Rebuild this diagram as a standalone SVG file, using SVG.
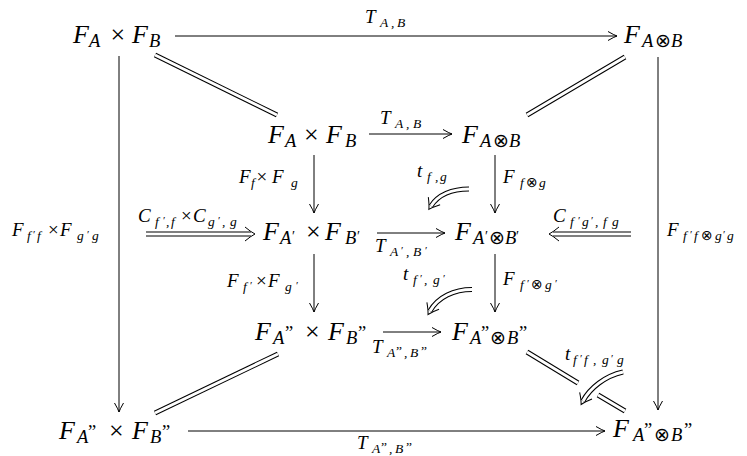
<svg xmlns="http://www.w3.org/2000/svg" width="747" height="456" viewBox="0 0 747 456">
<style>
text{font-family:'Liberation Serif','DejaVu Serif',serif;fill:#000}
.n{font-family:'Liberation Serif','DejaVu Serif',serif;font-style:italic;font-size:26px}
.ns{font-family:'Liberation Serif','DejaVu Serif',serif;font-style:italic;font-size:18.5px}
.nr{font-family:'Liberation Serif','DejaVu Serif',serif;font-style:normal;font-size:26px}
.no{font-style:normal;font-size:19px;font-family:'DejaVu Sans',sans-serif}
.nq{font-family:'Liberation Serif','DejaVu Serif',serif;font-style:normal;font-size:18.5px}
.np{font-family:'Liberation Serif','DejaVu Serif',serif;font-style:normal;font-size:14px}
.l{font-family:'Liberation Serif','DejaVu Serif',serif;font-style:italic;font-size:19px}
.lr{font-family:'Liberation Serif','DejaVu Serif',serif;font-style:normal;font-size:19px}
.ls{font-family:'Liberation Serif','DejaVu Serif',serif;font-style:italic;font-size:13.5px}
.lp{font-family:'Liberation Serif','DejaVu Serif',serif;font-style:normal;font-size:11px}
.lo{font-style:normal;font-size:14px;font-family:'DejaVu Sans',sans-serif}
.lq{font-family:'Liberation Serif','DejaVu Serif',serif;font-style:normal;font-size:13.5px}
.c{fill:none;stroke:#000;stroke-width:1}
.d{fill:none;stroke:#000;stroke-width:5}
.dw{fill:none;stroke:#fff;stroke-width:3}
</style>
<defs>
<marker id="ah" markerUnits="userSpaceOnUse" viewBox="-11 -6 13 12" markerWidth="13" markerHeight="12" refX="0" refY="0" orient="auto"><path d="M-9,-4.5 Q-3,-1 0,0 Q-3,1 -9,4.5" fill="none" stroke="#000" stroke-width="1"/></marker>
<marker id="dah" markerUnits="userSpaceOnUse" viewBox="-12 -8 14 16" markerWidth="14" markerHeight="16" refX="-4" refY="0" orient="auto"><path d="M-10,-7 Q-4,-2 0,0 Q-4,2 -10,7" fill="none" stroke="#000" stroke-width="1"/></marker>
</defs>

<g id="connectors">
<path class="c" marker-end="url(#ah)" d="M175,36 H617"/>
<path class="c" marker-end="url(#ah)" d="M369,134 H452"/>
<path class="c" marker-end="url(#ah)" d="M377,233 H445"/>
<path class="c" marker-end="url(#ah)" d="M383,332 H441"/>
<path class="c" marker-end="url(#ah)" d="M188,431 H605"/>
<path class="c" marker-end="url(#ah)" d="M119,56 V412"/>
<path class="c" marker-end="url(#ah)" d="M658,57 V410"/>
<path class="c" marker-end="url(#ah)" d="M314,155 V213"/>
<path class="c" marker-end="url(#ah)" d="M495,155 V213"/>
<path class="c" marker-end="url(#ah)" d="M314,254 V312"/>
<path class="c" marker-end="url(#ah)" d="M495,254 V312"/>
<path class="d" marker-end="url(#dah)" d="M146,234 H251"/><path class="dw" d="M146,234 H251"/>
<path class="d" marker-end="url(#dah)" d="M631,234 H553"/><path class="dw" d="M631,234 H553"/>
<path class="d" d="M155,55 L277,115"/><path class="dw" d="M155,55 L277,115"/>
<path class="d" d="M625,57 L527,115"/><path class="dw" d="M625,57 L527,115"/>
<path class="d" d="M155,413 L278,354"/><path class="dw" d="M155,413 L278,354"/>
<path class="d" d="M527,352 L578,383"/><path class="dw" d="M527,352 L578,383"/>
<path class="d" d="M598,395 L625,411"/><path class="dw" d="M598,395 L625,411"/>
<path class="d" marker-end="url(#dah)" d="M469,189 C452,189 438,195 431,206"/><path class="dw" d="M469,189 C452,189 438,195 431,206"/>
<path class="d" marker-end="url(#dah)" d="M472,289.5 C454,289.5 438,297 430,311"/><path class="dw" d="M472,289.5 C454,289.5 438,297 430,311"/>
<path class="d" marker-end="url(#dah)" d="M623,372 C605,376 590,388 583,401"/><path class="dw" d="M623,372 C605,376 590,388 583,401"/>
</g>

<g id="n1"><text class="n"><tspan x="73" y="43">F</tspan><tspan class="ns" x="89" y="47">A</tspan><tspan class="nr" x="110.5" y="43">×</tspan><tspan x="132" y="43">F</tspan><tspan class="ns" x="149" y="47">B</tspan></text></g>
<g id="n2"><text class="n"><tspan x="624" y="43">F</tspan><tspan class="ns" x="642" y="47">A</tspan><tspan class="no" x="655" y="47">⊗</tspan><tspan class="ns" x="671" y="47">B</tspan></text></g>
<g id="n3"><text class="n"><tspan x="268" y="143">F</tspan><tspan class="ns" x="285" y="147">A</tspan><tspan class="nr" x="304" y="143">×</tspan><tspan x="326" y="143">F</tspan><tspan class="ns" x="345" y="147">B</tspan></text></g>
<g id="n4"><text class="n"><tspan x="462" y="143">F</tspan><tspan class="ns" x="480" y="147">A</tspan><tspan class="no" x="493" y="147">⊗</tspan><tspan class="ns" x="509" y="147">B</tspan></text></g>
<g id="n5"><text class="n"><tspan x="263" y="240">F</tspan><tspan class="ns" x="280" y="244">A</tspan><tspan class="np" x="292" y="241">′</tspan><tspan class="nr" x="306" y="240">×</tspan><tspan x="325" y="240">F</tspan><tspan class="ns" x="345" y="244">B</tspan><tspan class="np" x="357" y="241">′</tspan></text></g>
<g id="n6"><text class="n"><tspan x="455" y="240">F</tspan><tspan class="ns" x="473" y="244">A</tspan><tspan class="np" x="485" y="241">′</tspan><tspan class="no" x="489" y="244">⊗</tspan><tspan class="ns" x="505" y="244">B</tspan><tspan class="np" x="516" y="241">′</tspan></text></g>
<g id="n7"><text class="n"><tspan x="255" y="340">F</tspan><tspan class="ns" x="273" y="344">A</tspan><tspan class="nq" x="285" y="339">”</tspan><tspan class="nr" x="305" y="340">×</tspan><tspan x="328" y="340">F</tspan><tspan class="ns" x="346" y="344">B</tspan><tspan class="nq" x="358" y="339">”</tspan></text></g>
<g id="n8"><text class="n"><tspan x="452" y="340">F</tspan><tspan class="ns" x="470" y="344">A</tspan><tspan class="nq" x="481" y="339">”</tspan><tspan class="no" x="490" y="344">⊗</tspan><tspan class="ns" x="507" y="344">B</tspan><tspan class="nq" x="519" y="339">”</tspan></text></g>
<g id="n9"><text class="n"><tspan x="59" y="439">F</tspan><tspan class="ns" x="77" y="443">A</tspan><tspan class="nq" x="88" y="438">”</tspan><tspan class="nr" x="109" y="439">×</tspan><tspan x="132" y="439">F</tspan><tspan class="ns" x="150" y="443">B</tspan><tspan class="nq" x="162" y="438">”</tspan></text></g>
<g id="n10"><text class="n"><tspan x="613" y="437">F</tspan><tspan class="ns" x="633" y="441">A</tspan><tspan class="nq" x="644" y="436">”</tspan><tspan class="no" x="654" y="441">⊗</tspan><tspan class="ns" x="671" y="441">B</tspan><tspan class="nq" x="684" y="436">”</tspan></text></g>

<g id="labels">
<text class="l"><tspan x="365" y="23">T</tspan><tspan class="ls" x="380" y="27">A</tspan><tspan class="ls" x="391" y="27">,</tspan><tspan class="ls" x="397" y="27">B</tspan></text>
<text class="l"><tspan x="380" y="124">T</tspan><tspan class="ls" x="395" y="128">A</tspan><tspan class="ls" x="406" y="128">,</tspan><tspan class="ls" x="413" y="128">B</tspan></text>
<text class="l"><tspan x="239" y="183">F</tspan><tspan class="ls" x="251" y="187">f</tspan><tspan class="lr" x="256.5" y="183">×</tspan><tspan x="272" y="183">F</tspan><tspan class="ls" x="291" y="187">g</tspan></text>
<text class="l"><tspan x="503" y="183">F</tspan><tspan class="ls" x="520" y="187">f</tspan><tspan class="lo" x="526" y="187">⊗</tspan><tspan class="ls" x="539" y="187">g</tspan></text>
<text class="l"><tspan x="417" y="177">t</tspan><tspan class="ls" x="427" y="181">f</tspan><tspan class="ls" x="435" y="181">,</tspan><tspan class="ls" x="440" y="181">g</tspan></text>
<text class="l"><tspan x="138" y="222">C</tspan><tspan class="ls" x="155" y="226">f</tspan><tspan class="lp" x="163" y="224">′</tspan><tspan class="ls" x="166" y="226">,</tspan><tspan class="ls" x="171" y="226">f</tspan><tspan class="lr" x="181" y="222">×</tspan><tspan x="193" y="222">C</tspan><tspan class="ls" x="208" y="226">g</tspan><tspan class="lp" x="218" y="224">′</tspan><tspan class="ls" x="222" y="226">,</tspan><tspan class="ls" x="230" y="226">g</tspan></text>
<text class="l"><tspan x="553" y="222">C</tspan><tspan class="ls" x="570" y="226">f</tspan><tspan class="lp" x="578" y="224">′</tspan><tspan class="ls" x="582" y="226">g</tspan><tspan class="lp" x="591" y="224">′</tspan><tspan class="ls" x="595" y="226">,</tspan><tspan class="ls" x="603" y="226">f</tspan><tspan class="ls" x="612" y="226">g</tspan></text>
<text class="l"><tspan x="12" y="236">F</tspan><tspan class="ls" x="27" y="240">f</tspan><tspan class="lp" x="33" y="238">′</tspan><tspan class="ls" x="37" y="240">f</tspan><tspan class="lr" x="48" y="236">×</tspan><tspan x="60" y="236">F</tspan><tspan class="ls" x="77" y="240">g</tspan><tspan class="lp" x="87" y="238">′</tspan><tspan class="ls" x="92" y="240">g</tspan></text>
<text class="l"><tspan x="667" y="236">F</tspan><tspan class="ls" x="683" y="240">f</tspan><tspan class="lp" x="690" y="238">′</tspan><tspan class="ls" x="694" y="240">f</tspan><tspan class="lo" x="701" y="240">⊗</tspan><tspan class="ls" x="715" y="240">g</tspan><tspan class="lp" x="723" y="238">′</tspan><tspan class="ls" x="727" y="240">g</tspan></text>
<text class="l"><tspan x="375" y="252">T</tspan><tspan class="ls" x="390" y="256">A</tspan><tspan class="lp" x="401" y="254">′</tspan><tspan class="ls" x="406" y="256">,</tspan><tspan class="ls" x="413" y="256">B</tspan><tspan class="lp" x="425" y="254">′</tspan></text>
<text class="l"><tspan x="227" y="287">F</tspan><tspan class="ls" x="243" y="291">f</tspan><tspan class="lp" x="250" y="289">′</tspan><tspan class="lr" x="256" y="287">×</tspan><tspan x="268" y="287">F</tspan><tspan class="ls" x="285" y="291">g</tspan><tspan class="lp" x="296" y="289">′</tspan></text>
<text class="l"><tspan x="503" y="285">F</tspan><tspan class="ls" x="520" y="289">f</tspan><tspan class="lp" x="527" y="287">′</tspan><tspan class="lo" x="531" y="289">⊗</tspan><tspan class="ls" x="545" y="289">g</tspan><tspan class="lp" x="555" y="287">′</tspan></text>
<text class="l"><tspan x="403" y="280">t</tspan><tspan class="ls" x="413" y="284">f</tspan><tspan class="lp" x="420" y="282">′</tspan><tspan class="ls" x="424" y="284">,</tspan><tspan class="ls" x="433" y="284">g</tspan><tspan class="lp" x="443" y="282">′</tspan></text>
<text class="l"><tspan x="372" y="353">T</tspan><tspan class="ls" x="387" y="357">A</tspan><tspan class="lq" x="396" y="355">”</tspan><tspan class="ls" x="404" y="357">,</tspan><tspan class="ls" x="410" y="357">B</tspan><tspan class="lq" x="421" y="355">”</tspan></text>
<text class="l"><tspan x="565" y="360">t</tspan><tspan class="ls" x="573" y="364">f</tspan><tspan class="lp" x="580" y="362">′</tspan><tspan class="ls" x="584" y="364">f</tspan><tspan class="ls" x="593" y="364">,</tspan><tspan class="ls" x="602" y="364">g</tspan><tspan class="lp" x="611" y="362">′</tspan><tspan class="ls" x="617" y="364">g</tspan></text>
<text class="l"><tspan x="357" y="449">T</tspan><tspan class="ls" x="372" y="453">A</tspan><tspan class="lq" x="381" y="451">”</tspan><tspan class="ls" x="389" y="453">,</tspan><tspan class="ls" x="395" y="453">B</tspan><tspan class="lq" x="406" y="451">”</tspan></text>
</g>
</svg>
